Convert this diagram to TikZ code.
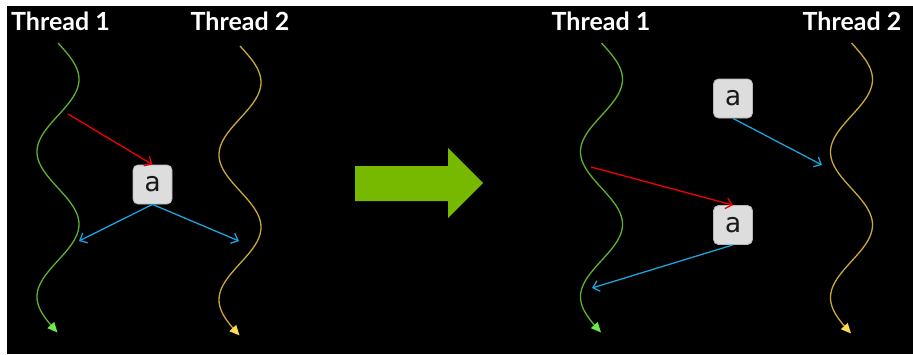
\documentclass[tikz,border=0pt]{standalone}
\usepackage{fontspec}
\setmainfont{Lato}
\newfontfamily\boxfont{DejaVu Sans Mono}
\usetikzlibrary{arrows.meta}

\definecolor{threadgreen}{HTML}{5FB02F}
\definecolor{tipgreen}{HTML}{6EE84A}
\definecolor{threadyellow}{HTML}{C9A83A}
\definecolor{tipyellow}{HTML}{F8DC50}
\definecolor{readred}{HTML}{F00000}
\definecolor{writeblue}{HTML}{1AA3DC}
\definecolor{bigarrow}{HTML}{76B900}
\definecolor{varfill}{HTML}{DDDDDD}
\definecolor{varedge}{HTML}{B8B8B8}

\tikzset{
  label/.style={text=white, font=\fontsize{25}{28}\selectfont\bfseries, anchor=base, inner sep=0pt},
  varbox/.style={draw=varedge, fill=varfill, rounded corners=5pt, line width=0.8pt,
    minimum width=39pt, minimum height=39pt, inner sep=0pt,
    font=\boxfont\fontsize{27}{30}\selectfont, text=black!90},
  thread one/.style={draw=threadgreen, line width=1.3pt,
    -{Triangle[length=10pt,width=9pt,color=tipgreen]}},
  thread two/.style={draw=threadyellow, line width=1.3pt,
    -{Triangle[length=10pt,width=9pt,color=tipyellow]}},
  readarrow/.style={draw=readred, line width=1.3pt, -{Straight Barb[length=6pt,width=11pt]}},
  writearrow/.style={draw=writeblue, line width=1.3pt, -{Straight Barb[length=6pt,width=11pt]}},
}

\begin{document}
\begin{tikzpicture}[x=1pt,y=-1pt]
  % page and dark slide area
  \useasboundingbox (0,0) rectangle (913,354);
  \fill[white] (0,0) rectangle (913,354);
  \fill[black] (7,6) rectangle (913,354);

  % ---------- left: shared variable, both threads ----------
  \node[label] (l1) at (60.5,30) {Thread 1};
  \node[label] (l2) at (240,30) {Thread 2};
  \draw[thread one] plot[domain=0:1, samples=150, smooth] ({58+21*sin(720*\x)}, {43+290*\x});
  \draw[thread two] plot[domain=0:1, samples=150, smooth] ({240+21*sin(720*\x)}, {46+290*\x});

  \node[varbox] (va) at (152.5,184.5) {a};
  \coordinate (ra) at (68,114);
  \coordinate (wa1) at (79,241);
  \coordinate (wa2) at (239,241);
  \draw[readarrow] (ra) -- (va.north);
  \draw[writearrow] (va.south) -- (wa1);
  \draw[writearrow] (va.south) -- (wa2);

  % ---------- middle arrow ----------
  \fill[bigarrow] (355,166) -- (448,166) -- (448,148) -- (483,183)
    -- (448,218) -- (448,201) -- (355,201) -- cycle;

  % ---------- right: separate copies ----------
  \node[label] (r1) at (601,30) {Thread 1};
  \node[label] (r2) at (852,30) {Thread 2};
  \draw[thread one] plot[domain=0:1, samples=150, smooth] ({601.5+21*sin(720*\x)}, {43+290*\x});
  \draw[thread two] plot[domain=0:1, samples=150, smooth] ({851.5+21*sin(720*\x)}, {43+291*\x});

  \node[varbox] (vb) at (733,98.5) {a};
  \node[varbox] (vc) at (733,225) {a};
  \coordinate (wb) at (822,165);
  \coordinate (rc) at (591,167);
  \coordinate (wc) at (592,288);
  \draw[writearrow] (vb.south) -- (wb);
  \draw[readarrow] (rc) -- (vc.north);
  \draw[writearrow] (vc.south) -- (wc);
\end{tikzpicture}
\end{document}
